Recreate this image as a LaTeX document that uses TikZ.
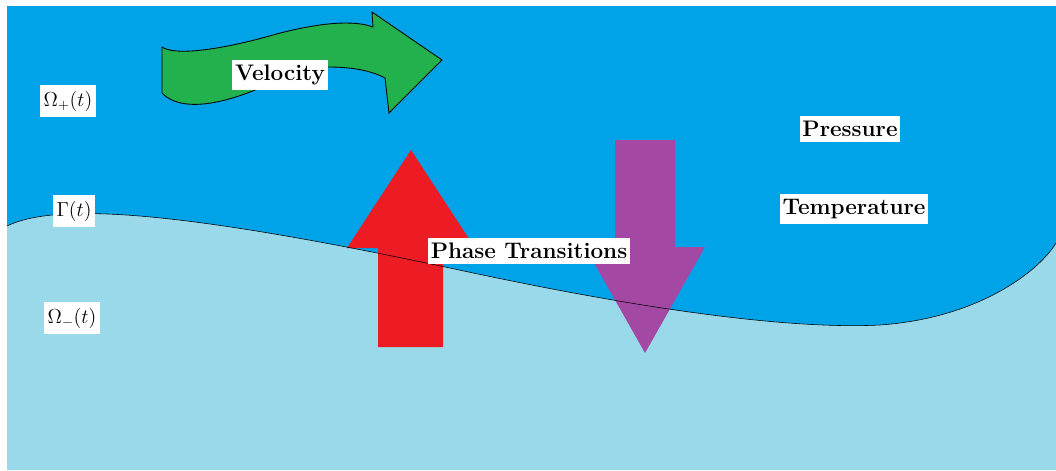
\documentclass[tikz,border=0pt]{standalone}
\usetikzlibrary{positioning}
\definecolor{upper}{HTML}{00A2E8}
\definecolor{lower}{HTML}{99D9EA}
\definecolor{velgreen}{HTML}{22B14C}
\definecolor{phasered}{HTML}{ED1C24}
\definecolor{phasepurple}{HTML}{A349A4}

\begin{document}
\begin{tikzpicture}[x=0.025cm, y=-0.025cm,
    lbl/.style={fill=white, inner xsep=2pt, inner ysep=3.5pt, font=\fontsize{16}{19}\selectfont\bfseries},
    mathlbl/.style={fill=white, inner xsep=2.5pt, inner ysep=4pt, font=\fontsize{14.5}{17}\selectfont}]
    \useasboundingbox (0,0) rectangle (1056,470);
    % domains
    \fill[upper] (7,6) rectangle (1056,470);
    \fill[lower] (7,226) .. controls (60,200) and (200,215) .. (450,268)
        .. controls (620,305) and (780,330) .. (880,325)
        .. controls (980,318) and (1040,270) .. (1056,243)
        -- (1056,470) -- (7,470) -- cycle;
    % arrows
    \filldraw[fill=velgreen, draw=black, semithick] (162,47) .. controls (175,56) and (220,50) .. (273,35)
        .. controls (320,22) and (355,20) .. (373,27) -- (372,12) -- (442,60) -- (389,113)
        -- (385,78) .. controls (370,70) and (350,67) .. (328,67)
        .. controls (305,67) and (290,75) .. (260,88)
        .. controls (220,105) and (180,112) .. (162,93) -- cycle;
    \fill[phasered] (378,347) -- (378,248) -- (347,248) -- (411,150) -- (475,248)
        -- (443,248) -- (443,347) -- cycle;
    \fill[phasepurple] (615,140) -- (675,140) -- (675,247) -- (705,247) -- (645,353)
        -- (585,247) -- (615,247) -- cycle;
    % interface
    \draw (7,226) .. controls (60,200) and (200,215) .. (450,268)
        .. controls (620,305) and (780,330) .. (880,325)
        .. controls (980,318) and (1040,270) .. (1056,243);
    % labels
    \node[mathlbl] (omegaplus) at (68,101) {$\Omega_+(t)$};
    \node[mathlbl] (gamma) at (74,211) {$\Gamma(t)$};
    \node[mathlbl] (omegaminus) at (72,318) {$\Omega_-(t)$};
    \node[lbl] (velocity) at (280,75) {Velocity};
    \node[lbl] (phase) at (529,251) {Phase Transitions};
    \node[lbl] (pressure) at (850,129) {Pressure};
    \node[lbl] (temperature) at (854,209) {Temperature};
\end{tikzpicture}
\end{document}
